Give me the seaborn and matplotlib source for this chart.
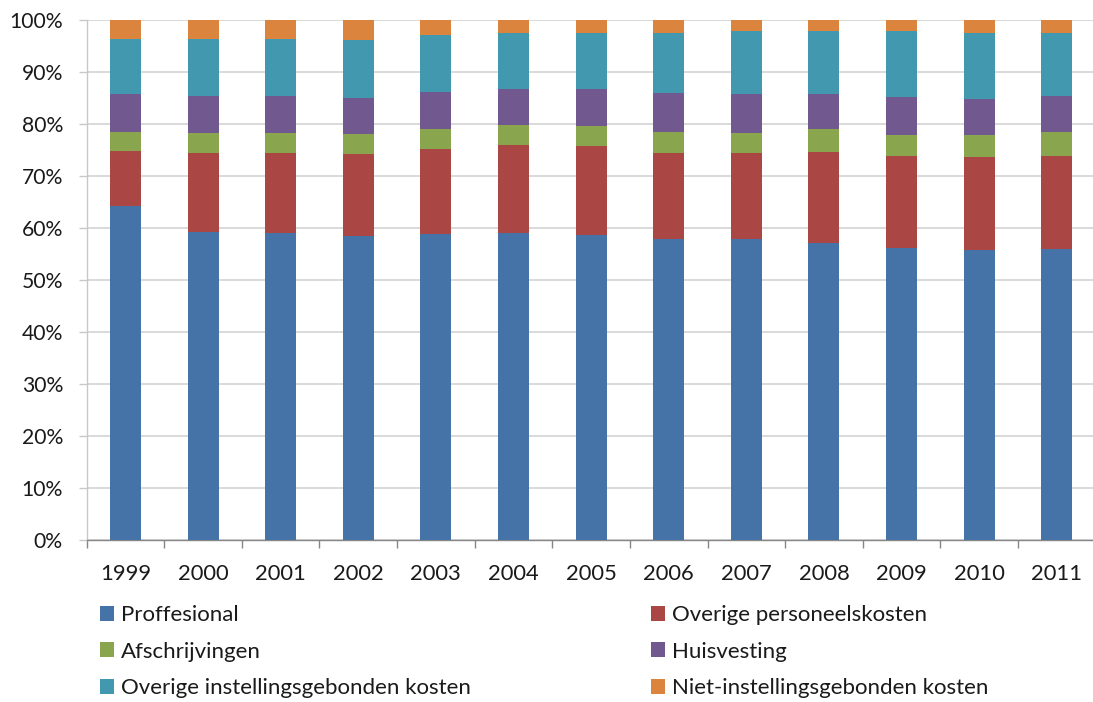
import numpy as np
import matplotlib
matplotlib.use("Agg")
import matplotlib.pyplot as plt
import seaborn as sns
from matplotlib.patches import Patch
from matplotlib.ticker import FixedLocator, PercentFormatter

years = ["1999", "2000", "2001", "2002", "2003", "2004", "2005",
         "2006", "2007", "2008", "2009", "2010", "2011"]

proffesional = [64.2, 59.3, 59.0, 58.5, 58.8, 59.0, 58.6, 57.9, 57.9, 57.05, 56.1, 55.7, 55.9]
overige_personeel = [10.7, 15.2, 15.4, 15.7, 16.4, 16.9, 17.2, 16.5, 16.5, 17.65, 17.7, 17.95, 18.0]
afschrijvingen = [3.6, 3.7, 3.8, 3.9, 3.8, 3.9, 3.9, 4.1, 3.8, 4.3, 4.15, 4.15, 4.6]
huisvesting = [7.2, 7.25, 7.1, 6.9, 7.15, 6.9, 7.1, 7.5, 7.5, 6.7, 7.15, 7.1, 6.8]
overige_instelling = [10.6, 10.85, 11.0, 11.1, 10.95, 10.8, 10.7, 11.5, 12.25, 12.25, 12.7, 12.6, 12.2]
niet_instelling = [3.7, 3.7, 3.7, 3.9, 2.9, 2.5, 2.5, 2.5, 2.05, 2.05, 2.2, 2.5, 2.5]

series_names = ["Proffesional", "Overige personeelskosten", "Afschrijvingen",
                "Huisvesting", "Overige instellingsgebonden kosten",
                "Niet-instellingsgebonden kosten"]
series_values = [proffesional, overige_personeel, afschrijvingen,
                 huisvesting, overige_instelling, niet_instelling]
colors = ["#4572A7", "#AA4643", "#89A54E", "#71588F", "#4198AF", "#DB843D"]

sns.set_theme(style="white")
plt.rcParams["font.family"] = ["Lato", "DejaVu Sans"]

fig = plt.figure(figsize=(10.93, 7.02), dpi=100)
ax = fig.add_axes([86.6 / 1093, 162 / 702, 1009 / 1093, 520 / 702])

cum = np.cumsum(np.array(series_values), axis=0)
for i in range(len(series_names) - 1, -1, -1):
    sns.barplot(x=years, y=cum[i], color=colors[i], saturation=1,
                width=0.4, ax=ax, linewidth=0, zorder=3)

ax.set_xlim(-0.5, len(years) - 0.5)
ax.set_ylim(0, 100)
ax.yaxis.set_major_locator(FixedLocator(np.arange(0, 101, 10)))
ax.yaxis.set_major_formatter(PercentFormatter(decimals=0))
ax.grid(axis="y", color="#D0D0D0", linewidth=1.1, zorder=0)
ax.grid(axis="x", visible=False)
ax.set_axisbelow(True)

for s in ["top", "right"]:
    ax.spines[s].set_visible(False)
ax.spines["left"].set_color("#C8C8C8")
ax.spines["left"].set_linewidth(1.0)
ax.spines["bottom"].set_color("#868686")
ax.spines["bottom"].set_linewidth(1.0)

ax.set_xlabel("")
ax.set_ylabel("")
ax.tick_params(axis="y", which="major", left=True, length=6, width=1,
               color="#C8C8C8", pad=11, labelsize=15.2, labelcolor="#1a1a1a")
ax.xaxis.set_minor_locator(FixedLocator(np.arange(-0.5, len(years), 1.0)))
ax.tick_params(axis="x", which="major", bottom=True, length=0, pad=17,
               labelsize=15.8, labelcolor="#1a1a1a")
ax.tick_params(axis="x", which="minor", bottom=True, length=6, width=1,
               color="#868686", direction="out")

handles = [Patch(facecolor=c, edgecolor="none") for c in colors]
order = [0, 2, 4, 1, 3, 5]
fig.legend([handles[k] for k in order], [series_names[k] for k in order],
           ncol=2, loc="upper left", bbox_to_anchor=(100 / 1093, 1 - 605 / 702),
           frameon=False, fontsize=16, handlelength=0.65, handleheight=0.65,
           handletextpad=0.3, labelspacing=0.75, columnspacing=8.1,
           borderaxespad=0, borderpad=0, labelcolor="#1a1a1a")

fig.savefig("out.png", dpi=100)
